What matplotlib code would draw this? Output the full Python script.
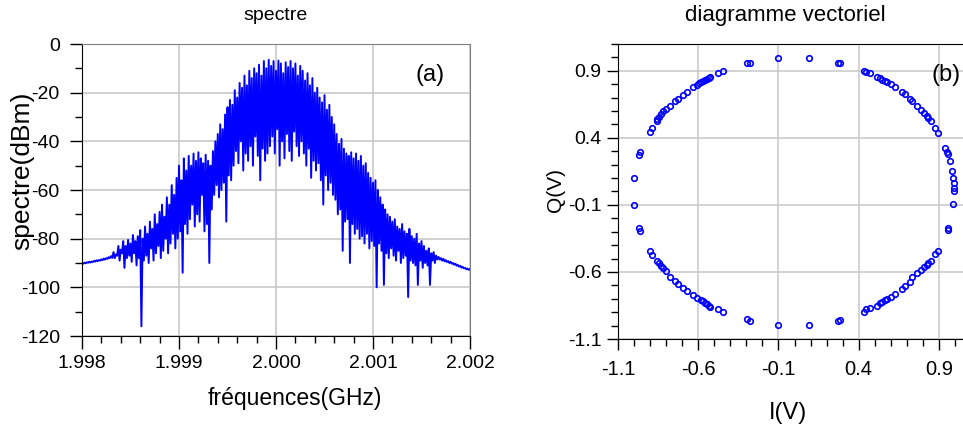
import matplotlib
matplotlib.use('Agg')
import matplotlib.pyplot as plt
from matplotlib.ticker import MultipleLocator

plt.rcParams['font.family'] = ['Liberation Sans', 'DejaVu Sans']
plt.rcParams['axes.unicode_minus'] = False

# ---- spectrum: peaks at f0 + k*step, troughs at the midpoints
f_start = 1.998
f_step = 0.000025
peaks = [
    -90.0, -89.9, -89.7, -89.5, -89.4, -89.1, -88.9, -88.8, -88.5, -88.2, -88.0, -87.6, -87.2,
    -85.5, -86.5, -83, -84.5, -81, -83, -80.5, -82, -78.5, -81, -79, -76.5,
    -80, -75, -78, -73, -76, -70, -74, -69, -66, -71, -63, -66,
    -58, -62, -55, -50, -56, -47, -52,
    -46, -50, -45, -48, -44.5, -47, -49, -45.5, -48, -50,
    -44, -40, -37, -33, -35, -29, -26, -23, -25,
    -19, -22, -16, -18, -13, -17, -11, -14, -10, -12, -8.5, -13, -7, -10,
    -6.5, -9, -7, -11, -6.8, -8, -12, -7.5, -9.5, -7, -10, -8, -13, -9,
    -11, -15, -12, -17, -14, -20, -18, -22, -24, -21, -27, -25, -30, -33,
    -37, -41, -39, -43, -45, -46, -44.5, -47,
    -45, -48, -46, -50, -49, -53, -55, -57, -56, -60, -63, -66,
    -68, -70, -71, -73, -72, -75, -76, -74, -77, -78, -76, -79,
    -80, -78, -82, -81, -83, -85, -84, -86, -85.5, -87,
    -87.5, -88, -88.3, -88.8, -89.2, -89.5, -90, -90.3, -90.8, -91.2, -91.6, -92, -92.3, -92.5,
]
troughs = [
    -90.3, -90.1, -89.9, -89.8, -89.6, -89.4, -89.2, -89.0, -88.8, -88.6, -88.3, -88.0, -87.9,
    -88, -87, -89, -86, -92, -88, -87, -89.5, -86, -91, -88, -116,
    -89, -87, -90, -84, -89, -86, -83, -88, -85, -80, -86, -82,
    -78, -84, -80, -77, -94, -74, -78,
    -72, -66, -75, -70, -73, -62, -77, -74, -90, -68,
    -62, -58, -63, -60, -57, -73, -54, -56, -50,
    -44, -49, -40, -52, -45, -48, -42, -50, -38, -46, -56, -43, -48, -45,
    -42, -38, -45, -35, -50, -40, -47, -37, -44, -48, -36, -42, -46, -40,
    -45, -50, -43, -55, -48, -52, -49, -56, -66, -54, -60, -57, -62, -64,
    -70, -68, -85, -73, -72, -90, -74, -78,
    -76, -80, -79, -82, -78, -84, -81, -83, -100, -82, -85, -99,
    -86, -88, -84, -87, -89, -85, -90, -88, -87, -104, -89, -90,
    -91, -99, -89, -92, -90, -91, -99, -89, -90, -88.5,
    -88.6, -89, -89.3, -89.6, -90, -90.3, -90.7, -91.1, -91.5, -91.9, -92.2, -92.6, -92.8,
]

# ---- constellation (I, Q) in volts
I_vals = [
    -0.1, 0.09, 0.271, 0.285, -0.298, -0.277,
    -0.444, -0.475, -0.527, -0.535, -0.548, -0.560, -0.573, -0.583, -0.598, -0.610, -0.635,
    -0.673, -0.698, -0.725, -0.744, -0.777, -0.802, -0.819, -0.833, -0.844, -0.854, -0.860,
    -0.885, -0.900,
    -0.963, -0.967, -1.0, -1.0, -0.967, -0.963,
    -0.900, -0.885, -0.854, -0.844, -0.833, -0.819, -0.802, -0.777, -0.744, -0.725, -0.698,
    -0.673, -0.635, -0.610, -0.583, -0.573, -0.560, -0.548, -0.535, -0.527, -0.475, -0.444,
    -0.298, -0.277, -0.1, 0.09, 0.271, 0.285,
    0.433, 0.448, 0.469, 0.517, 0.531, 0.548, 0.563, 0.577, 0.600, 0.629, 0.667, 0.688,
    0.719, 0.735, 0.765, 0.788, 0.808, 0.823, 0.833, 0.848, 0.875, 0.896,
    0.938, 0.948, 0.958, 0.969, 0.979, 0.990, 0.994, 0.996, 0.996, 0.990, 0.954, 0.958,
    0.896, 0.875, 0.848, 0.833, 0.823, 0.808, 0.788, 0.765, 0.735, 0.719, 0.688, 0.667,
    0.629, 0.600, 0.577, 0.563, 0.548, 0.531, 0.517, 0.469, 0.448, 0.433,
]
Q_vals = [
    0.995, 0.995, 0.962, 0.957, 0.957, 0.962,
    0.900, 0.883, 0.853, 0.848, 0.840, 0.833, 0.825, 0.818, 0.808, 0.796, 0.776,
    0.741, 0.721, 0.691, 0.674, 0.639, 0.614, 0.597, 0.579, 0.559, 0.544, 0.527,
    0.477, 0.440,
    0.291, 0.273, 0.097, -0.098, -0.269, -0.292,
    -0.441, -0.473, -0.518, -0.535, -0.553, -0.570, -0.590, -0.635, -0.667, -0.690, -0.722,
    -0.739, -0.774, -0.792, -0.809, -0.819, -0.829, -0.836, -0.851, -0.859, -0.879, -0.899,
    -0.953, -0.963, -0.996, -0.996, -0.963, -0.958,
    0.900, 0.893, 0.883, 0.853, 0.843, 0.833, 0.825, 0.813, 0.798, 0.776, 0.741, 0.726,
    0.691, 0.674, 0.639, 0.609, 0.584, 0.564, 0.547, 0.529, 0.472, 0.435,
    0.323, 0.298, 0.281, 0.228, 0.156, 0.099, 0.062, 0.024, 0.0, -0.093, -0.269, -0.287,
    -0.441, -0.468, -0.515, -0.530, -0.548, -0.565, -0.585, -0.610, -0.640, -0.672, -0.704, -0.724,
    -0.767, -0.784, -0.799, -0.809, -0.821, -0.834, -0.851, -0.871, -0.879, -0.899,
]

# interleave peaks and troughs into one trace
freqs = []
levels = []
for k, p in enumerate(peaks):
    freqs.append(f_start + k * f_step)
    levels.append(p)
    if k < len(troughs):
        freqs.append(f_start + (k + 0.5) * f_step)
        levels.append(troughs[k])

W, H = 963, 436
fig = plt.figure(figsize=(W / 100, H / 100), dpi=100)
fs = 14
grid_c = '#c8c8c8'

# ---------- (a) spectre
ax1 = fig.add_axes([82 / W, 1 - 336 / H, 388 / W, 292 / H])
ax1.plot(freqs, levels, color='#0000ff', lw=1.4)
ax1.set_xlim(1.998, 2.002)
ax1.set_ylim(-120, 0)
ax1.set_xticks([1.998, 1.999, 2.000, 2.001, 2.002])
ax1.set_xticklabels(['1.998', '1.999', '2.000', '2.001', '2.002'])
ax1.xaxis.set_minor_locator(MultipleLocator(0.0002))
ax1.set_yticks(range(-120, 1, 20))
ax1.yaxis.set_minor_locator(MultipleLocator(10))
ax1.grid(True, color=grid_c, lw=1.2)
ax1.set_axisbelow(True)
ax1.tick_params(which='major', length=9, width=1, labelsize=fs)
ax1.tick_params(axis='y', which='major', pad=7)
ax1.tick_params(axis='x', which='major', pad=5)
ax1.tick_params(which='minor', length=5, width=1)
ax1.spines['top'].set_color('#808080')
ax1.spines['right'].set_color('#808080')

fig.text(430 / W, 1 - 75 / H, '(a)', fontsize=17, ha='center', va='center')
fig.text(276 / W, 1 - 16 / H, 'spectre', fontsize=14, ha='center', va='center')
fig.text(295 / W, 1 - 398 / H, 'fréquences(GHz)', fontsize=16.5, ha='center', va='center')
fig.text(22 / W, 1 - 171 / H, 'spectre(dBm)', fontsize=19, ha='center', va='center',
         rotation=90)

# ---------- (b) diagramme vectoriel
ax2 = fig.add_axes([618 / W, 1 - 339 / H, 353 / W, 295 / H])
ax2.plot(I_vals, Q_vals, 'o', ms=4, mfc='none', mec='#0000ff', mew=1.2)
ax2.set_xlim(-1.1, 1.1)
ax2.set_ylim(-1.1, 1.1)
ticks_b = [-1.1, -0.6, -0.1, 0.4, 0.9]
ax2.set_xticks(ticks_b)
ax2.set_xticklabels(['-1.1', '-0.6', '-0.1', '0.4', '0.9'])
ax2.set_yticks(ticks_b)
ax2.set_yticklabels(['-1.1', '-0.6', '-0.1', '0.4', '0.9'])
ax2.xaxis.set_minor_locator(MultipleLocator(0.1))
ax2.yaxis.set_minor_locator(MultipleLocator(0.1))
ax2.grid(True, color=grid_c, lw=1.1)
ax2.set_axisbelow(True)
ax2.tick_params(which='major', length=8, width=1, labelsize=14.5)
ax2.tick_params(axis='y', which='major', pad=4, labelsize=14)
ax2.tick_params(axis='x', which='major', pad=7)
ax2.tick_params(which='minor', length=5, width=1)
ax2.spines['right'].set_visible(False)

fig.text(946 / W, 1 - 75 / H, '(b)', fontsize=17, ha='center', va='center')
fig.text(785 / W, 1 - 16 / H, 'diagramme vectoriel', fontsize=16, ha='center', va='center')
fig.text(788 / W, 1 - 413 / H, 'I(V)', fontsize=17, ha='center', va='center')
fig.text(555 / W, 1 - 190 / H, 'Q(V)', fontsize=15, ha='center', va='center', rotation=90)

fig.savefig('out.png', dpi=100)
